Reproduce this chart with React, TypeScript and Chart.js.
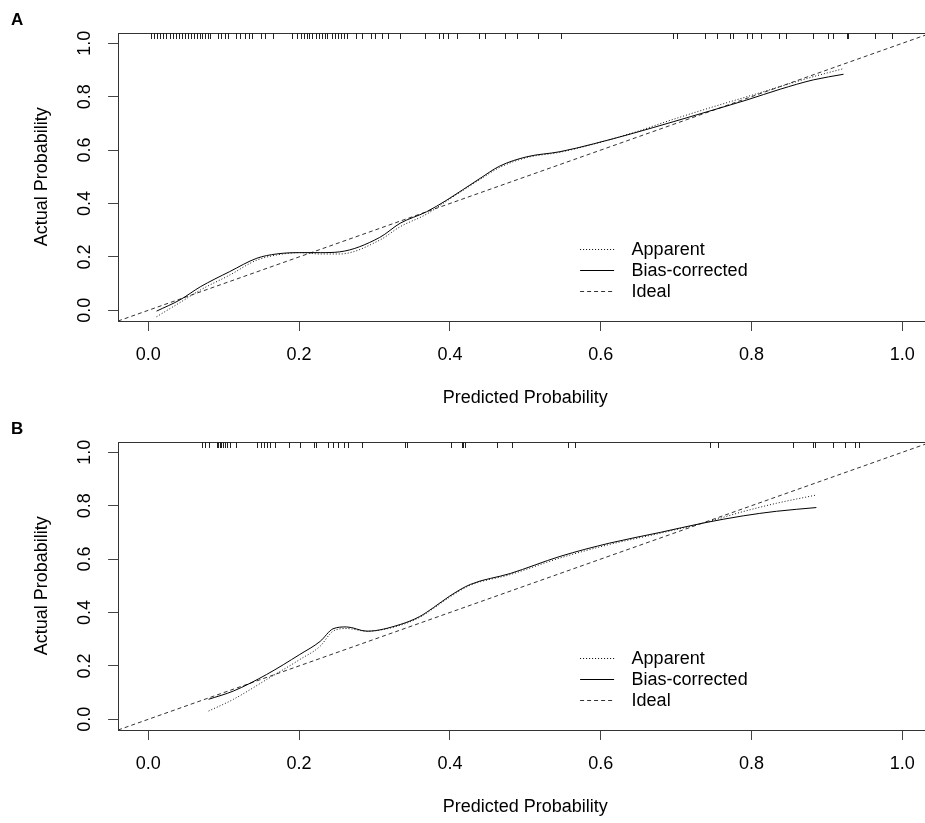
import React, { useEffect, useRef } from "react";
import { Chart, registerables } from "chart.js";

Chart.register(...registerables);

// ---------- shared axis / text data ----------
const tickValues = [0, 0.2, 0.4, 0.6, 0.8, 1.0];
const axisRange = [-0.04, 1.04];
const idealLine = [-0.04, 1.04];
const legendLabels = ["Apparent", "Bias-corrected", "Ideal"];
const xTitle = "Predicted Probability";
const yTitle = "Actual Probability";
const panelLabels = ["A", "B"];

// ---------- panel A ----------
const aApparentX = [0.011, 0.042, 0.069, 0.108, 0.144, 0.170, 0.201, 0.228, 0.254, 0.307, 0.334, 0.369, 0.396, 0.440, 0.466, 0.502, 0.546, 0.590, 0.643, 0.696, 0.749, 0.794, 0.838, 0.882, 0.922];
const aApparentY = [-0.024, 0.029, 0.076, 0.132, 0.188, 0.207, 0.216, 0.211, 0.211, 0.263, 0.313, 0.360, 0.410, 0.490, 0.535, 0.572, 0.592, 0.622, 0.665, 0.715, 0.762, 0.800, 0.838, 0.875, 0.905];
const aBiasX = [0.011, 0.042, 0.069, 0.108, 0.144, 0.170, 0.201, 0.228, 0.254, 0.307, 0.334, 0.369, 0.396, 0.440, 0.466, 0.502, 0.546, 0.590, 0.643, 0.696, 0.749, 0.794, 0.838, 0.882, 0.922];
const aBiasY = [-0.003, 0.039, 0.088, 0.145, 0.195, 0.211, 0.216, 0.216, 0.219, 0.273, 0.326, 0.369, 0.413, 0.494, 0.540, 0.575, 0.594, 0.623, 0.663, 0.706, 0.750, 0.788, 0.828, 0.863, 0.884];
const aRug = [0.003, 0.008, 0.012, 0.016, 0.02, 0.024, 0.029, 0.033, 0.037, 0.041, 0.045, 0.049, 0.053, 0.057, 0.06, 0.064, 0.068, 0.071, 0.075, 0.079, 0.082, 0.093, 0.097, 0.102, 0.106, 0.117, 0.122, 0.128, 0.133, 0.137, 0.150, 0.155, 0.166, 0.190, 0.197, 0.202, 0.206, 0.210, 0.213, 0.217, 0.222, 0.226, 0.230, 0.234, 0.237, 0.243, 0.247, 0.251, 0.255, 0.259, 0.263, 0.276, 0.283, 0.296, 0.301, 0.310, 0.318, 0.334, 0.367, 0.385, 0.391, 0.398, 0.409, 0.438, 0.447, 0.473, 0.489, 0.517, 0.548, 0.696, 0.701, 0.738, 0.754, 0.771, 0.776, 0.794, 0.800, 0.813, 0.836, 0.846, 0.882, 0.902, 0.908, 0.926, 0.928, 0.964, 0.986];

// ---------- panel B ----------
const bApparentX = [0.080, 0.113, 0.157, 0.201, 0.228, 0.245, 0.263, 0.290, 0.334, 0.360, 0.378, 0.400, 0.427, 0.480, 0.546, 0.612, 0.679, 0.736, 0.789, 0.833, 0.886];
const bApparentY = [0.031, 0.075, 0.149, 0.224, 0.274, 0.330, 0.340, 0.330, 0.352, 0.382, 0.415, 0.458, 0.502, 0.542, 0.604, 0.655, 0.697, 0.735, 0.778, 0.809, 0.840];
const bBiasX = [0.080, 0.113, 0.157, 0.201, 0.228, 0.245, 0.263, 0.290, 0.334, 0.360, 0.378, 0.400, 0.427, 0.480, 0.546, 0.612, 0.679, 0.736, 0.789, 0.833, 0.886];
const bBiasY = [0.075, 0.106, 0.168, 0.243, 0.292, 0.339, 0.346, 0.330, 0.355, 0.385, 0.418, 0.462, 0.505, 0.546, 0.610, 0.660, 0.700, 0.735, 0.762, 0.779, 0.793];
const bRug = [0.071, 0.075, 0.080, 0.091, 0.093, 0.095, 0.097, 0.099, 0.102, 0.104, 0.108, 0.117, 0.144, 0.150, 0.153, 0.157, 0.161, 0.168, 0.186, 0.201, 0.220, 0.222, 0.239, 0.245, 0.252, 0.259, 0.265, 0.283, 0.340, 0.343, 0.402, 0.416, 0.418, 0.420, 0.462, 0.482, 0.557, 0.566, 0.745, 0.756, 0.855, 0.882, 0.884, 0.908, 0.924, 0.937, 0.942];

// ---------- styling ----------
const FONT = "'Liberation Sans', Arial, Helvetica, sans-serif";
const CANVAS_W = 940;
const CANVAS_H = 409;
const DOTTED = [1, 2];
const DASHED = [4, 3];

type PanelProps = {
  label: string;
  apparentX: number[];
  apparentY: number[];
  biasX: number[];
  biasY: number[];
  rug: number[];
};

const pts = (xs: number[], ys: number[]) => xs.map((x, i) => ({ x, y: ys[i] }));

function Panel(props: PanelProps) {
  const ref = useRef<HTMLCanvasElement | null>(null);

  useEffect(() => {
    const canvas = ref.current;
    if (!canvas) return;

    const overlay = {
      id: "rOverlay",
      afterDatasetsDraw(chart: any) {
        const { ctx, chartArea } = chart;
        const xs = chart.scales.x;
        const { left, top, right, bottom } = chartArea;
        ctx.save();
        // box
        ctx.strokeStyle = "#333";
        ctx.lineWidth = 1;
        ctx.setLineDash([]);
        ctx.strokeRect(Math.round(left) + 0.5, Math.round(top) + 0.5, Math.round(right - left), Math.round(bottom - top));
        // rug at top
        ctx.strokeStyle = "#222";
        ctx.beginPath();
        props.rug.forEach((v) => {
          const px = Math.round(xs.getPixelForValue(v)) + 0.5;
          ctx.moveTo(px, Math.round(top));
          ctx.lineTo(px, Math.round(top) + 6);
        });
        ctx.stroke();
        // legend
        const dashes = [DOTTED, [], DASHED];
        const lx0 = left + 462;
        const lx1 = left + 496;
        const tx = left + 513.5;
        const ty0 = top + 216.5;
        ctx.font = `18px ${FONT}`;
        ctx.textBaseline = "middle";
        ctx.textAlign = "left";
        legendLabels.forEach((lab, i) => {
          const y = Math.round(ty0 + i * 21) + 0.5;
          ctx.strokeStyle = i === 2 ? "#333" : "#000";
          ctx.setLineDash(dashes[i]);
          ctx.beginPath();
          ctx.moveTo(lx0, y);
          ctx.lineTo(lx1, y);
          ctx.stroke();
          ctx.setLineDash([]);
          ctx.fillStyle = "#000";
          ctx.fillText(lab, tx, y + 1);
        });
        ctx.restore();
      },
      afterDraw(chart: any) {
        const { ctx } = chart;
        ctx.save();
        ctx.font = `bold 17px ${FONT}`;
        ctx.fillStyle = "#000";
        ctx.textBaseline = "alphabetic";
        ctx.textAlign = "left";
        ctx.fillText(props.label, 11, 25);
        ctx.restore();
      },
    };

    const tickFont = { size: 18, family: FONT };

    const chart = new Chart(canvas, {
      type: "scatter",
      data: {
        datasets: [
          {
            label: legendLabels[0],
            data: pts(props.apparentX, props.apparentY),
            showLine: true,
            borderColor: "#111",
            borderWidth: 1,
            borderDash: DOTTED,
            pointRadius: 0,
            cubicInterpolationMode: "monotone",
          },
          {
            label: legendLabels[1],
            data: pts(props.biasX, props.biasY),
            showLine: true,
            borderColor: "#000",
            borderWidth: 1,
            pointRadius: 0,
            cubicInterpolationMode: "monotone",
          },
          {
            label: legendLabels[2],
            data: pts(idealLine, idealLine),
            showLine: true,
            borderColor: "#333",
            borderWidth: 1,
            borderDash: DASHED,
            pointRadius: 0,
          },
        ],
      } as any,
      options: {
        animation: false,
        responsive: false,
        devicePixelRatio: 1,
        events: [],
        layout: { padding: { left: 0, top: 32.6, right: 7.5, bottom: 0 } },
        plugins: {
          legend: { display: false },
          tooltip: { enabled: false },
          title: { display: false },
        },
        scales: {
          x: {
            type: "linear",
            position: "bottom",
            min: axisRange[0],
            max: axisRange[1],
            afterBuildTicks: (s: any) => {
              s.ticks = tickValues.map((v) => ({ value: v }));
            },
            afterFit: (s: any) => {
              s.height = 88;
            },
            ticks: {
              callback: (v: any) => Number(v).toFixed(1),
              font: tickFont,
              color: "#000",
              padding: 13,
              maxRotation: 0,
              minRotation: 0,
              autoSkip: false,
            },
            grid: { display: true, drawOnChartArea: false, drawTicks: true, tickLength: 10, tickColor: "#444" },
            border: { display: false },
            title: { display: true, text: xTitle, font: tickFont, color: "#000", padding: { top: 0, bottom: 0 } },
          },
          y: {
            type: "linear",
            position: "left",
            min: axisRange[0],
            max: axisRange[1],
            afterBuildTicks: (s: any) => {
              s.ticks = tickValues.map((v) => ({ value: v }));
            },
            afterFit: (s: any) => {
              s.width = 118.1;
            },
            ticks: {
              callback: (v: any) => Number(v).toFixed(1),
              font: tickFont,
              color: "#000",
              padding: 10.5,
              minRotation: 90,
              maxRotation: 90,
              crossAlign: "center",
              autoSkip: false,
            },
            grid: { display: true, drawOnChartArea: false, drawTicks: true, tickLength: 10, tickColor: "#444" },
            border: { display: false },
            title: { display: true, text: yTitle, font: tickFont, color: "#000", padding: { top: 31.2, bottom: 0 } },
          },
        },
      } as any,
      plugins: [overlay],
    });

    return () => chart.destroy();
  }, []);

  return (
    <canvas
      ref={ref}
      width={CANVAS_W}
      height={CANVAS_H}
      style={{ display: "block", width: CANVAS_W, height: CANVAS_H }}
    />
  );
}

export default function App() {
  return (
    <div
      style={{
        position: "absolute",
        left: 0,
        top: 0,
        width: 925,
        height: 823,
        overflow: "hidden",
        background: "#fff",
      }}
    >
      <Panel label={panelLabels[0]} apparentX={aApparentX} apparentY={aApparentY} biasX={aBiasX} biasY={aBiasY} rug={aRug} />
      <Panel label={panelLabels[1]} apparentX={bApparentX} apparentY={bApparentY} biasX={bBiasX} biasY={bBiasY} rug={bRug} />
    </div>
  );
}
